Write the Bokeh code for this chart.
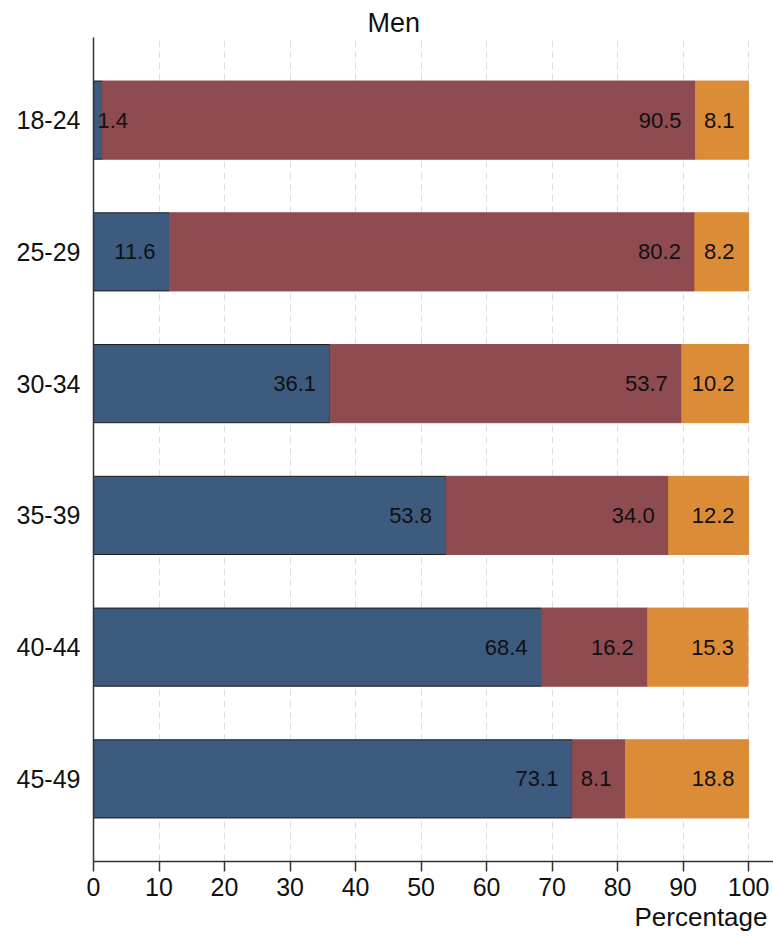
import numpy as np
from bokeh.plotting import figure
from bokeh.models import ColumnDataSource, FixedTicker, Range1d, Title
from bokeh.core.properties import value
from bokeh.embed import file_html
from bokeh.resources import INLINE

categories = ["18-24", "25-29", "30-34", "35-39", "40-44", "45-49"]
blue_vals = [1.4, 11.6, 36.1, 53.8, 68.4, 73.1]
red_vals = [90.5, 80.2, 53.7, 34.0, 16.2, 8.1]
orange_vals = [8.1, 8.2, 10.2, 12.2, 15.3, 18.8]
x_ticks = [0, 10, 20, 30, 40, 50, 60, 70, 80, 90, 100]
title_text = "Men"
x_title = "Percentage"

FONT = "Liberation Sans"
colors = ["#3d5a7f", "#8e4b50", "#dc8b36"]
outline = ["#1a1a1a", "#8e4b50", "#dc8b36"]

n = len(categories)
ypos = [n - i for i in range(n)]

p = figure(width=773, height=937, output_backend="svg", toolbar_location=None,
           x_range=Range1d(0, 103.8), y_range=Range1d(0.373, n + 0.627),
           min_border_left=93, min_border_right=0, min_border_top=37, min_border_bottom=76)
p.outline_line_color = None
p.background_fill_color = "white"
p.border_fill_color = "white"

p.title.text = title_text
p.title.align = "left"
p.title.offset = 274
p.title.standoff = 0
p.title.text_font = FONT
p.title.text_font_size = "27px"
p.title.text_font_style = "normal"
p.title.text_color = "#111111"

series = [blue_vals, red_vals, orange_vals]
left = np.zeros(n)
label_sets = []
for k, vals in enumerate(series):
    vals = np.array(vals, dtype=float)
    right = left + vals
    src = ColumnDataSource(dict(y=ypos, left=left, right=right))
    p.hbar(y="y", left="left", right="right", height=0.593, source=src,
           fill_color=colors[k], line_color=outline[k], line_width=1)
    label_sets.append((vals, left.copy(), right.copy()))
    left = right

for vals, lft, rgt in label_sets:
    narrow = vals < 5
    idx_norm = [i for i in range(n) if not narrow[i]]
    idx_nar = [i for i in range(n) if narrow[i]]
    if idx_norm:
        s1 = ColumnDataSource(dict(x=[rgt[i] for i in idx_norm], y=[ypos[i] for i in idx_norm],
                                   t=["%.1f" % vals[i] for i in idx_norm]))
        p.text(x="x", y="y", text="t", source=s1, text_align="right", text_baseline="middle",
               x_offset=-14, text_font=value(FONT), text_font_size="22px", text_color="#111111")
    if idx_nar:
        s2 = ColumnDataSource(dict(x=[lft[i] for i in idx_nar], y=[ypos[i] for i in idx_nar],
                                   t=["%.1f" % vals[i] for i in idx_nar]))
        p.text(x="x", y="y", text="t", source=s2, text_align="left", text_baseline="middle",
               x_offset=4, text_font=value(FONT), text_font_size="22px", text_color="#111111")

# axes
p.xaxis.ticker = FixedTicker(ticks=x_ticks)
p.xaxis.minor_tick_line_color = None
p.xaxis.major_tick_out = 10
p.xaxis.major_tick_in = 0
p.xaxis.major_label_standoff = 6
p.xaxis.major_label_text_font = FONT
p.xaxis.major_label_text_font_size = "25px"
p.xaxis.major_label_text_color = "#111111"
p.xaxis.axis_line_color = "#333333"
p.xaxis.axis_line_width = 1.5
p.xaxis.major_tick_line_color = "#333333"
p.xaxis.major_tick_line_width = 1.5

p.yaxis.ticker = FixedTicker(ticks=ypos)
p.yaxis.major_label_overrides = {ypos[i]: categories[i] for i in range(n)}
p.yaxis.minor_tick_line_color = None
p.yaxis.major_tick_line_color = None
p.yaxis.major_tick_out = 0
p.yaxis.major_tick_in = 0
p.yaxis.major_label_standoff = 13
p.yaxis.major_label_text_font = FONT
p.yaxis.major_label_text_font_size = "25px"
p.yaxis.major_label_text_color = "#111111"
p.yaxis.axis_line_color = "#333333"
p.yaxis.axis_line_width = 1.5

p.ygrid.grid_line_color = None
p.xgrid.ticker = FixedTicker(ticks=x_ticks[1:])
p.xgrid.grid_line_color = "#dedede"
p.xgrid.grid_line_dash = "7 4"
p.xgrid.grid_line_width = 1

xt = Title(text=x_title, align="left", offset=541, standoff=3,
           text_font=FONT, text_font_size="26px", text_font_style="normal", text_color="#111111")
p.add_layout(xt, "below")

open("out.html", "w").write(file_html(p, INLINE))
